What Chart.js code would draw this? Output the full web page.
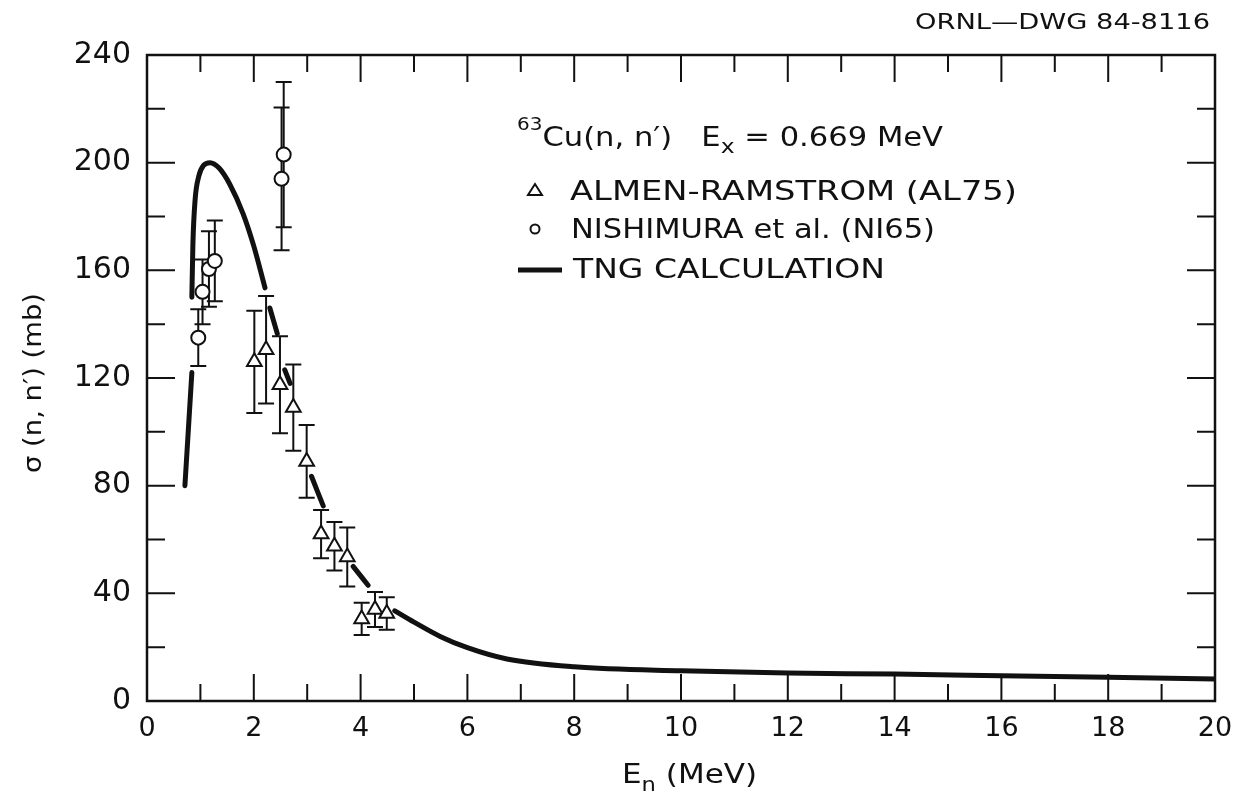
<!DOCTYPE html>
<html>
<head>
<meta charset="utf-8">
<script src="https://cdn.jsdelivr.net/npm/chart.js@4.4.1/dist/chart.umd.min.js"></script>
<style>
  html, body { margin: 0; padding: 0; background: #fff; }
</style>
</head>
<body>
<canvas id="xsChart" width="1246" height="797"></canvas>
<script>
// TNG calculation; null marks a break in the drawn curve (gaps around data points)
const tngEnergy = [0.71, 0.84, null, 0.84, 0.86, 0.90, 0.97, 1.06, 1.18, 1.35, 1.55, 1.80, 2.00, 2.21, null,
                   2.30, 2.44, null, 2.58, 2.68, null, 3.08, 3.30, null, 3.86, 4.14, null,
                   4.64, 5.0, 5.49, 6.0, 6.74, 8, 10, 12, 14, 16, 18, 20];
const tngSigma  = [80, 122, null, 150, 170, 186, 195, 199, 200, 198, 192, 181, 169, 153.5, null,
                   146, 136.5, null, 123, 118, null, 83.5, 72.5, null, 50, 43, null,
                   33.5, 29.3, 24, 19.8, 15.6, 12.7, 11.2, 10.4, 10.0, 9.4, 8.8, 8.2];

// ALMEN-RAMSTROM (AL75)
const almenEnergy = [2.01, 2.23, 2.49, 2.74, 2.99, 3.26, 3.51, 3.75, 4.02, 4.27, 4.49];
const almenSigma  = [126, 130.5, 117.5, 109, 89, 62, 57.5, 53.5, 30.5, 34, 32.5];
const almenErr    = [19, 20, 18, 16, 13.5, 9, 9, 11, 6, 6.5, 6];

// NISHIMURA et al. (NI65)
const nishEnergy = [0.96, 1.04, 1.16, 1.27, 2.52, 2.56];
const nishSigma  = [135, 152, 160.5, 163.5, 194, 203];
const nishErr    = [10.5, 12, 14, 15, 26.5, 27];

// labelled ticks
const xTickLabels = [0, 2, 4, 6, 8, 10, 12, 14, 16, 18, 20];
const yTickLabels = [0, 40, 80, 120, 160, 200, 240];

const ink = "#111";
const face = '"DejaVu Sans"';

const tngPoints = tngEnergy.map((e, i) => ({ x: e, y: tngSigma[i] }));
const almenPoints = almenEnergy.map((e, i) => ({ x: e, y: almenSigma[i] }));
const nishPoints = nishEnergy.map((e, i) => ({ x: e, y: nishSigma[i] }));

// draw a run of text pieces (sup/subscripts), squeezed to a given width
function drawRich(ctx, parts, x, baseline, width) {
    let total = 0;
    parts.forEach(p => {
        ctx.font = p.size + "px " + face;
        p.w = ctx.measureText(p.t).width;
        total += p.w;
    });
    const sx = width ? width / total : 1;
    ctx.save();
    ctx.translate(x, baseline);
    ctx.scale(sx, 1);
    ctx.fillStyle = ink;
    ctx.textBaseline = "alphabetic";
    ctx.textAlign = "left";
    let cx = 0;
    parts.forEach(p => {
        ctx.font = p.size + "px " + face;
        ctx.fillText(p.t, cx, p.dy || 0);
        cx += p.w;
    });
    ctx.restore();
}

const errorBars = {
    id: "errorBars",
    beforeDatasetsDraw(chart) {
        const { ctx, scales: { x, y } } = chart;
        ctx.save();
        ctx.strokeStyle = ink;
        ctx.lineWidth = 2;
        const draw = (es, vs, errs, cap) => {
            es.forEach((e, i) => {
                const px = x.getPixelForValue(e);
                const top = y.getPixelForValue(vs[i] + errs[i]);
                const bot = y.getPixelForValue(vs[i] - errs[i]);
                ctx.beginPath();
                ctx.moveTo(px, top); ctx.lineTo(px, bot);
                ctx.moveTo(px - cap, top); ctx.lineTo(px + cap, top);
                ctx.moveTo(px - cap, bot); ctx.lineTo(px + cap, bot);
                ctx.stroke();
            });
        };
        draw(almenEnergy, almenSigma, almenErr, 8);
        draw(nishEnergy, nishSigma, nishErr, 8);
        ctx.restore();
    }
};

const frame = {
    id: "frame",
    afterDraw(chart) {
        const { ctx, chartArea: a, scales: { x, y } } = chart;
        ctx.save();
        ctx.strokeStyle = ink;
        ctx.lineWidth = 2.5;
        ctx.strokeRect(a.left, a.top, a.right - a.left, a.bottom - a.top);
        ctx.lineWidth = 2;
        ctx.beginPath();
        x.ticks.forEach(t => {
            const px = x.getPixelForValue(t.value);
            const len = t.value % 2 === 0 ? 27 : 17;
            ctx.moveTo(px, a.bottom); ctx.lineTo(px, a.bottom - len);
            ctx.moveTo(px, a.top); ctx.lineTo(px, a.top + len);
        });
        y.ticks.forEach(t => {
            const py = y.getPixelForValue(t.value);
            const len = t.value % 40 === 0 ? 28 : 18;
            ctx.moveTo(a.left, py); ctx.lineTo(a.left + len, py);
            ctx.moveTo(a.right, py); ctx.lineTo(a.right - len, py);
        });
        ctx.stroke();
        ctx.restore();
    }
};

const texts = {
    id: "texts",
    afterDraw(chart) {
        const ctx = chart.ctx;
        // drawing number
        drawRich(ctx, [{ t: "ORNL\u2014DWG 84-8116", size: 21 }], 915, 29, 295);

        // legend block
        drawRich(ctx, [
            { t: "63", size: 17, dy: -16 },
            { t: "Cu(n, n\u2032)   E", size: 26 },
            { t: "x", size: 20, dy: 7 },
            { t: " = 0.669 MeV", size: 26 }
        ], 517, 146, 426);
        drawRich(ctx, [{ t: "ALMEN-RAMSTROM (AL75)", size: 27 }], 570, 200, 447);
        drawRich(ctx, [{ t: "NISHIMURA et al. (NI65)", size: 27 }], 571, 238, 364);
        drawRich(ctx, [{ t: "TNG CALCULATION", size: 27 }], 573, 278, 312);

        ctx.save();
        ctx.strokeStyle = ink;
        ctx.lineWidth = 2;
        ctx.beginPath();
        ctx.moveTo(528, 195); ctx.lineTo(542, 195); ctx.lineTo(535, 184); ctx.closePath();
        ctx.stroke();
        ctx.beginPath();
        ctx.arc(535, 229, 4.5, 0, Math.PI * 2);
        ctx.stroke();
        ctx.lineWidth = 5;
        ctx.beginPath();
        ctx.moveTo(518, 270); ctx.lineTo(562, 270);
        ctx.stroke();
        ctx.restore();

        // axis titles
        drawRich(ctx, [
            { t: "E", size: 26 },
            { t: "n", size: 19, dy: 8 },
            { t: " (MeV)", size: 26 }
        ], 622, 783, 135);

        ctx.save();
        ctx.translate(33, 383);
        ctx.rotate(-Math.PI / 2);
        drawRich(ctx, [{ t: "\u03c3 (n, n\u2032) (mb)", size: 24 }], -90, 8, 180);
        ctx.restore();
    }
};

new Chart(document.getElementById("xsChart").getContext("2d"), {
    type: "scatter",
    data: {
        datasets: [
            {
                label: "NISHIMURA et al. (NI65)",
                data: nishPoints,
                pointStyle: "circle",
                pointRadius: 7,
                backgroundColor: "#fff",
                borderColor: ink,
                borderWidth: 2
            },
            {
                label: "ALMEN-RAMSTROM (AL75)",
                data: almenPoints,
                pointStyle: "triangle",
                pointRadius: 8.5,
                backgroundColor: "#fff",
                borderColor: ink,
                borderWidth: 2
            },
            {
                label: "TNG CALCULATION",
                data: tngPoints,
                showLine: true,
                spanGaps: false,
                cubicInterpolationMode: "monotone",
                borderColor: ink,
                borderWidth: 5,
                borderCapStyle: "round",
                pointRadius: 0
            }
        ]
    },
    options: {
        responsive: false,
        animation: false,
        devicePixelRatio: 1,
        layout: { padding: { top: 55, right: 31, left: 0, bottom: 0 } },
        plugins: {
            legend: { display: false },
            tooltip: { enabled: false }
        },
        scales: {
            x: {
                type: "linear",
                min: 0,
                max: 20,
                grid: { display: false, drawTicks: false },
                border: { display: false },
                ticks: {
                    stepSize: 1,
                    autoSkip: false,
                    maxRotation: 0,
                    padding: 12,
                    color: ink,
                    font: { family: "DejaVu Sans", size: 27 },
                    callback: v => (xTickLabels.includes(v) ? String(v) : "")
                },
                afterFit: s => { s.height = 96; }
            },
            y: {
                type: "linear",
                min: 0,
                max: 240,
                grid: { display: false, drawTicks: false },
                border: { display: false },
                ticks: {
                    stepSize: 20,
                    autoSkip: false,
                    padding: 16,
                    color: ink,
                    font: { family: "DejaVu Sans", size: 30 },
                    callback: v => (yTickLabels.includes(v) ? String(v) : "")
                },
                afterFit: s => { s.width = 147; }
            }
        }
    },
    plugins: [errorBars, frame, texts]
});
</script>
</body>
</html>
